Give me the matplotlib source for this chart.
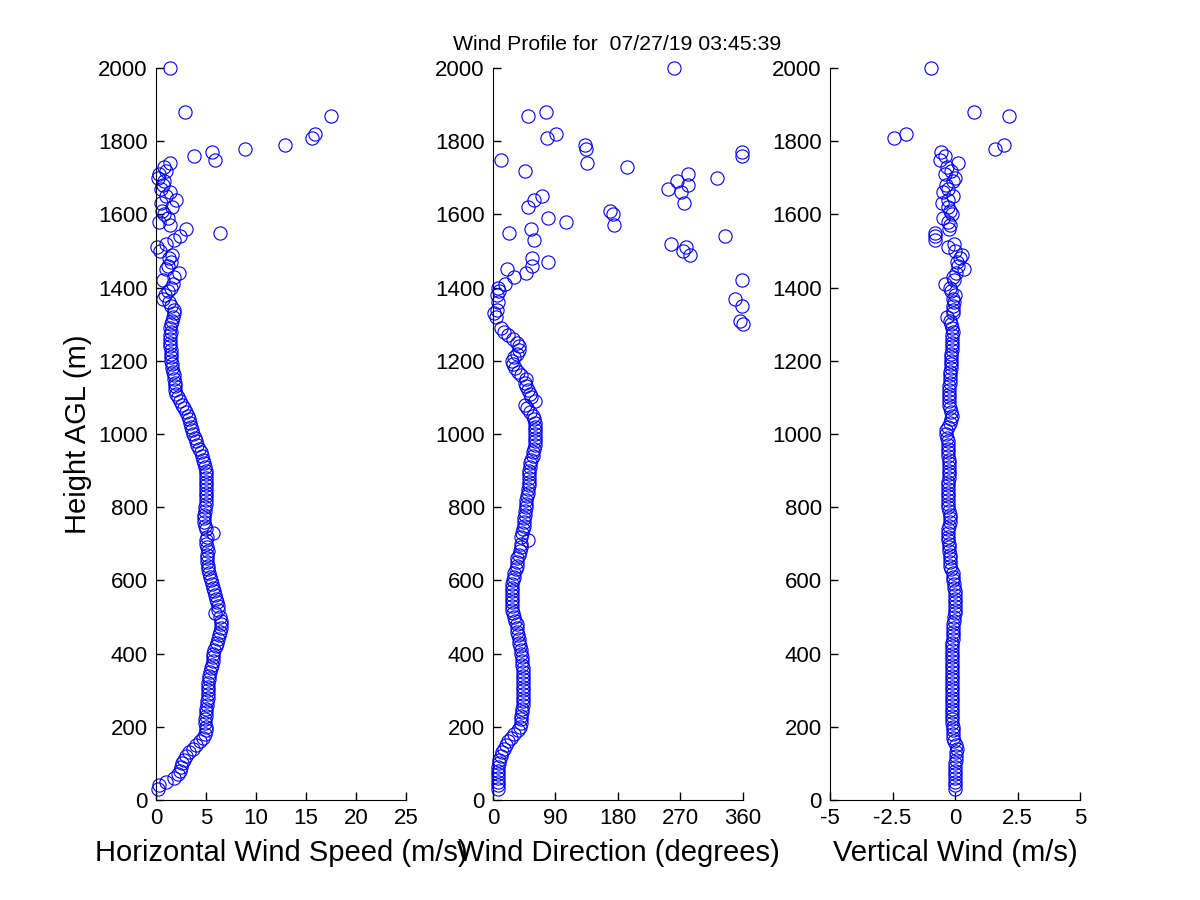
import matplotlib
matplotlib.use("Agg")
import matplotlib.pyplot as plt

plt.rcParams['font.family'] = ['Liberation Sans', 'DejaVu Sans']

# range gates (m AGL) that have a valid retrieval
heights = [
    30, 40, 50, 60, 70, 80, 90, 100, 110, 120,
    130, 140, 150, 160, 170, 180, 190, 200, 210, 220,
    230, 240, 250, 260, 270, 280, 290, 300, 310, 320,
    330, 340, 350, 360, 370, 380, 390, 400, 410, 420,
    430, 440, 450, 460, 470, 480, 490, 500, 510, 520,
    530, 540, 550, 560, 570, 580, 590, 600, 610, 620,
    630, 640, 650, 660, 670, 680, 690, 700, 710, 720,
    730, 740, 750, 760, 770, 780, 790, 800, 810, 820,
    830, 840, 850, 860, 870, 880, 890, 900, 910, 920,
    930, 940, 950, 960, 970, 980, 990, 1000, 1010, 1020,
    1030, 1040, 1050, 1060, 1070, 1080, 1090, 1100, 1110, 1120,
    1130, 1140, 1150, 1160, 1170, 1180, 1190, 1200, 1210, 1220,
    1230, 1240, 1250, 1260, 1270, 1280,
    1290, 1300, 1310, 1320, 1330, 1340, 1350, 1360, 1370, 1380,
    1390, 1400, 1410, 1420, 1430, 1440, 1450, 1460, 1470, 1480,
    1490, 1500, 1510, 1520, 1530, 1540, 1550, 1560, 1570, 1580,
    1590, 1600, 1610, 1620, 1630, 1640, 1650, 1660, 1670, 1680,
    1690, 1700, 1710, 1720, 1730, 1740, 1750, 1760, 1770,
    1780, 1790, 1810, 1820, 1870, 1880, 2000,
]

speed = [
    0.2, 0.3, 1.0, 1.8, 2.2, 2.4, 2.5, 2.6, 2.8, 3.0,
    3.3, 3.7, 4.0, 4.4, 4.7, 4.9, 5.0, 5.0, 4.9, 4.9,
    5.0, 5.0, 5.0, 5.1, 5.1, 5.2, 5.2, 5.2, 5.2, 5.2,
    5.3, 5.3, 5.4, 5.5, 5.6, 5.7, 5.7, 5.7, 5.8, 6.0,
    6.1, 6.2, 6.3, 6.4, 6.5, 6.5, 6.5, 6.4, 5.9, 6.2,
    6.2, 6.1, 6.0, 5.9, 5.8, 5.7, 5.6, 5.5, 5.4, 5.3,
    5.2, 5.2, 5.1, 5.1, 5.1, 5.2, 5.1, 5.0, 5.0, 5.1,
    5.7, 5.0, 4.9, 4.8, 4.8, 4.8, 4.9, 4.9, 5.0, 5.0,
    5.0, 5.0, 5.0, 5.0, 5.0, 5.0, 5.0, 5.0, 4.9, 4.8,
    4.7, 4.6, 4.5, 4.3, 4.1, 4.0, 3.9, 3.7, 3.6, 3.5,
    3.4, 3.3, 3.2, 3.0, 2.8, 2.6, 2.4, 2.2, 2.0, 1.9,
    1.9, 1.9, 1.8, 1.8, 1.7, 1.6, 1.6, 1.5, 1.5, 1.5,
    1.5, 1.4, 1.4, 1.4, 1.4, 1.5,
    1.4, 1.5, 1.6, 1.7, 1.8, 1.8, 1.5, 1.3, 0.7, 0.9,
    1.2, 1.5, 1.7, 0.7, 1.8, 2.3, 1.0, 1.2, 1.5, 1.3,
    1.6, 0.4, 0.1, 1.0, 1.8, 2.4, 6.4, 3.0, 1.4, 0.3,
    1.2, 0.8, 0.6, 1.6, 0.5, 2.0, 1.0, 1.4, 0.5, 0.7,
    0.8, 0.2, 0.3, 1.0, 0.8, 1.4, 5.9, 3.8, 5.6,
    8.9, 12.9, 15.6, 15.9, 17.5, 2.9, 1.4,
]

direction = [
    7, 7, 7, 7, 7, 7, 7, 8, 9, 11,
    13, 16, 19, 22, 26, 31, 36, 39, 40, 41,
    41, 42, 42, 43, 43, 43, 43, 43, 43, 43,
    43, 43, 43, 43, 42, 42, 42, 41, 40, 39,
    38, 37, 36, 35, 35, 34, 32, 30, 29, 28,
    27, 27, 27, 27, 27, 28, 28, 29, 30, 31,
    33, 34, 34, 35, 37, 39, 40, 41, 50, 41,
    42, 43, 44, 44, 45, 46, 46, 47, 47, 48,
    49, 50, 51, 52, 52, 52, 52, 52, 53, 54,
    55, 57, 58, 59, 60, 60, 60, 60, 60, 60,
    60, 59, 57, 53, 49, 46, 60, 55, 53, 50,
    48, 46, 48, 40, 36, 32, 29, 28, 30, 34,
    38, 37, 34, 29, 22, 16,
    11, 360, 356, 4, 1, 6, 359, 7, 349, 6,
    8, 7, 17, 359, 30, 48, 20, 56, 79, 56,
    284, 273, 278, 256, 59, 334, 23, 55, 174, 105,
    79, 173, 169, 51, 275, 59, 70, 271, 252, 281,
    265, 323, 281, 46, 193, 135, 12, 359, 359,
    134, 133, 78, 91, 51, 77, 261,
]

vertical = [
    0.0, 0.0, 0.0, 0.0, 0.0, 0.0, 0.0, 0.0, 0.02, 0.03,
    0.05, 0.08, 0.05, -0.05, -0.08, -0.1, -0.1, -0.1, -0.12, -0.13,
    -0.13, -0.12, -0.12, -0.12, -0.12, -0.12, -0.13, -0.13, -0.13, -0.13,
    -0.12, -0.12, -0.12, -0.13, -0.13, -0.13, -0.12, -0.12, -0.13, -0.13,
    -0.12, -0.1, -0.08, -0.07, -0.07, -0.07, -0.05, -0.03, -0.02, 0.0,
    0.0, 0.0, 0.0, 0.0, -0.02, -0.04, -0.06, -0.07, -0.07, -0.1,
    -0.15, -0.2, -0.2, -0.22, -0.22, -0.23, -0.23, -0.25, -0.27, -0.27,
    -0.27, -0.27, -0.25, -0.22, -0.2, -0.22, -0.25, -0.27, -0.27, -0.27,
    -0.27, -0.27, -0.27, -0.27, -0.27, -0.26, -0.25, -0.25, -0.25, -0.24,
    -0.25, -0.27, -0.28, -0.28, -0.28, -0.3, -0.33, -0.35, -0.35, -0.3,
    -0.2, -0.15, -0.13, -0.15, -0.2, -0.23, -0.25, -0.25, -0.25, -0.23,
    -0.23, -0.22, -0.22, -0.2, -0.2, -0.18, -0.17, -0.17, -0.16, -0.15,
    -0.14, -0.13, -0.12, -0.12, -0.11, -0.1,
    -0.12, -0.15, -0.2, -0.33, -0.1, -0.08, -0.07, -0.05, -0.1, 0.0,
    -0.15, -0.2, -0.4, -0.05, -0.07, 0.05, 0.36, 0.1, 0.07, 0.2,
    0.27, 0.0, -0.28, -0.05, -0.8, -0.8, -0.8, -0.23, -0.2, -0.3,
    -0.47, -0.13, -0.2, -0.28, -0.53, -0.3, -0.07, -0.48, -0.28, -0.35,
    -0.07, 0.0, -0.4, -0.15, -0.33, 0.1, -0.6, -0.4, -0.55,
    1.6, 1.96, -2.44, -1.96, 2.17, 0.76, -0.95,
]

panels = [
    (speed, 'Horizontal Wind Speed (m/s)', (0, 25), [0, 5, 10, 15, 20, 25],
     ['0', '5', '10', '15', '20', '25']),
    (direction, 'Wind Direction (degrees)', (0, 360), [0, 90, 180, 270, 360],
     ['0', '90', '180', '270', '360']),
    (vertical, 'Vertical Wind (m/s)', (-5, 5), [-5, -2.5, 0, 2.5, 5],
     ['-5', '-2.5', '0', '2.5', '5']),
]
y_ticks = [0, 200, 400, 600, 800, 1000, 1200, 1400, 1600, 1800, 2000]

fig = plt.figure(figsize=(12, 9), dpi=100)
lefts = [0.13, 0.4108, 0.6917]

for i, (vals, label, xlim, xt, xtl) in enumerate(panels):
    ax = fig.add_axes([lefts[i], 0.1111, 0.2083, 0.8133])
    ax.plot(vals, heights, linestyle='none', marker='o', markersize=9.5,
            markerfacecolor='none', markeredgecolor='blue', markeredgewidth=0.8,
            clip_on=False)
    ax.set_xlim(*xlim)
    ax.set_ylim(0, 2000)
    ax.set_xticks(xt)
    ax.set_xticklabels(xtl)
    ax.set_yticks(y_ticks)
    ax.spines['top'].set_visible(False)
    ax.spines['right'].set_visible(False)
    ax.tick_params(direction='in', length=6, width=1, labelsize=16, pad=6)
    ax.set_xlabel(label, fontsize=21, labelpad=7)
    if i == 0:
        ax.set_ylabel('Height AGL (m)', fontsize=21, labelpad=4)

fig.text(0.514, 0.951, 'Wind Profile for  07/27/19 03:45:39', ha='center',
         va='center', fontsize=15.3)

fig.savefig('out.png', dpi=100)
